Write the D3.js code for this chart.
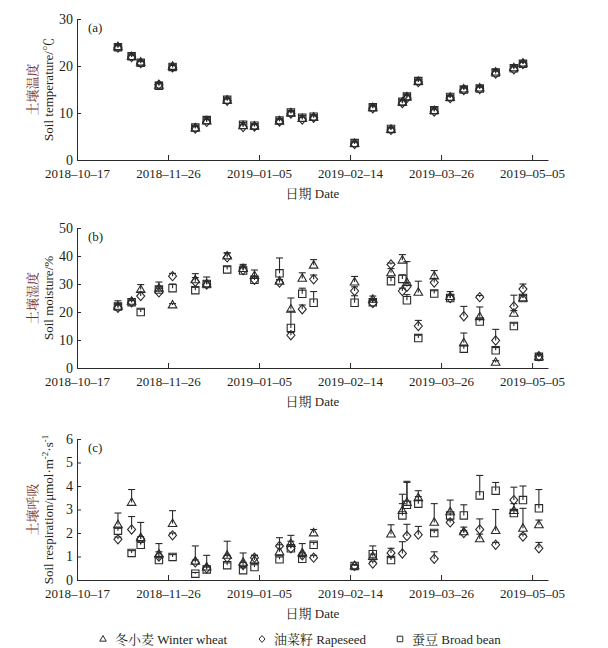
<!DOCTYPE html>
<html>
<head>
<meta charset="utf-8">
<script src="https://cdn.jsdelivr.net/npm/d3@7"></script>
<style>
body { margin: 0; background: #fff; }
svg text { font-family: "Liberation Serif", "Times New Roman", "Noto Serif CJK SC", "Noto Sans CJK SC", serif; fill: #231f20; }
</style>
</head>
<body>
<div id="chart"></div>
<script>
// sampling dates (shared by all panels)
const dates = ["2018-11-04","2018-11-10","2018-11-14","2018-11-22","2018-11-28","2018-12-08","2018-12-13",
  "2018-12-22","2018-12-29","2019-01-03","2019-01-14","2019-01-19","2019-01-24","2019-01-29","2019-02-16",
  "2019-02-24","2019-03-04","2019-03-09","2019-03-11","2019-03-16","2019-03-23","2019-03-30","2019-04-05",
  "2019-04-12","2019-04-19","2019-04-27","2019-05-01","2019-05-08"];
const tickDates = ["2018-10-17","2018-11-26","2019-01-05","2019-02-14","2019-03-26","2019-05-05"];
const dateDomain = ["2018-10-17","2019-05-12"];

// (a) soil temperature
const tempWheat = [24.1,22.0,20.8,15.9,19.9,6.8,8.3,12.7,7.3,7.2,8.3,10.0,8.8,9.1,3.5,11.1,6.5,12.3,13.4,16.7,10.5,13.3,15.1,15.3,18.7,19.6,20.6,null];
const tempWheatErr = [0.5,0.5,0.5,0.6,0.5,0.5,0.6,0.5,0.6,0.5,0.5,0.5,0.6,0.5,0.5,0.6,0.5,0.6,0.6,0.5,0.6,0.5,0.5,0.5,0.6,0.6,0.5,null];
const tempRape = [23.9,21.9,20.6,16.0,19.7,6.7,8.1,12.6,7.0,7.1,8.2,9.9,8.6,9.0,3.4,11.0,6.4,12.1,13.2,16.6,10.3,13.2,14.9,15.1,18.4,19.3,20.4,null];
const tempRapeErr = [0.4,0.4,0.4,0.5,0.4,0.4,0.5,0.4,0.5,0.4,0.4,0.4,0.5,0.4,0.4,0.5,0.4,0.5,0.5,0.4,0.5,0.4,0.4,0.4,0.5,0.5,0.4,null];
const tempBean = [24.0,22.1,20.7,15.8,19.8,6.9,8.5,12.8,7.5,7.3,8.4,10.1,9.0,9.2,3.6,11.2,6.6,12.4,13.5,16.8,10.6,13.4,15.0,15.2,18.6,19.5,20.5,null];
const tempBeanErr = [0.4,0.5,0.4,0.5,0.4,0.5,0.5,0.4,0.5,0.4,0.5,0.4,0.5,0.4,0.4,0.5,0.4,0.5,0.5,0.4,0.5,0.4,0.5,0.4,0.5,0.5,0.4,null];

// (b) soil moisture
const moistWheat = [22,23.8,28,28.5,22.5,31.5,30,40,35.5,33,31,21,32,36.7,30.7,24.5,34,38.5,30.5,27,32.8,25.5,9,18.3,2,19.5,25,4];
const moistWheatErr = [2,0.8,1.8,2.2,0.5,2.2,2.5,1.2,1.5,2,0.6,4,2,2,2,1.2,1.5,2,7.5,4,2,1.8,3.5,3.5,0.6,1,1,0.8];
const moistRape = [21.5,23.5,25.7,27,32.8,30.8,29.8,39.5,35,31.5,30.5,11.7,21,31.7,27.5,23.2,37,27.5,29,15,30.5,25,18.5,25.3,9.8,22,28.2,4.2];
const moistRapeErr = [1.2,0.6,1.5,1.5,1,1.5,1.2,1.5,1.5,1.2,1,1,1.5,1.5,1.5,1,0.5,1,1.5,2,1.5,1,3.5,0.6,4,4,1.8,0.6];
const moistBean = [22,23.5,20,28,28.5,27.8,30,35.2,34.8,31.5,33.8,14.3,26.5,23.3,23.3,23.5,31,31.8,24.2,10.7,26.6,25,6.9,16.6,6.3,15,25,4];
const moistBeanErr = [1,0.6,1,1,1.5,1,1,1,1,1,5.5,6,2,4,2.5,1,1.5,1.5,2,1,1,1,1,1,1,1,0.8,0.8];

// (c) soil respiration
const respWheat = [2.35,3.3,1.8,1.1,2.4,0.8,0.55,1.05,0.75,0.85,1.2,1.55,1.15,2.0,0.6,1.0,1.95,2.95,3.3,3.5,2.45,2.9,2.05,1.75,2.1,2.95,2.2,2.35];
const respWheatErr = [0.5,0.55,0.65,0.45,0.55,0.65,0.5,0.6,0.4,0.2,0.3,0.35,0.4,0.15,0.05,0.1,0.4,0.7,0.85,0.3,0.8,0.5,0.2,0.2,0.9,0.3,0.85,0.2];
const respRape = [1.73,2.15,1.75,1.0,1.9,0.75,0.5,0.95,0.65,0.95,1.45,1.35,1.05,0.95,0.6,0.7,1.15,1.13,1.87,1.93,0.9,2.45,2.0,2.15,1.5,3.4,1.85,1.35];
const respRapeErr = [0.1,0.55,0.1,0.2,0.1,0.1,0.1,0.1,0.1,0.1,0.35,0.3,0.1,0.1,0.05,0.1,0.2,0.5,0.5,0.35,0.3,0.1,0.1,0.45,0.1,0.55,0.1,0.25];
const respBean = [2.1,1.15,1.5,0.85,0.98,0.27,0.45,0.63,0.42,0.55,0.88,1.35,0.9,1.5,0.6,1.1,0.85,2.75,3.2,3.25,2.0,2.75,2.75,3.6,3.8,2.85,3.4,3.05];
const respBeanErr = [0.1,0.1,0.1,0.1,0.1,0.05,0.1,0.1,0.1,0.1,0.1,0.1,0.1,0.1,0.05,0.35,0.1,0.5,1.0,0.3,0.1,0.1,0.45,0.85,0.35,0.1,0.6,0.8];

const legendNames = ["冬小麦 Winter wheat","油菜籽 Rapeseed","蚕豆 Broad bean"];

// panel setup
const left = 77, right = 548;
const panels = [
  {tag:"(a)", top:19, bottom:160, max:30, ticks:[0,10,20,30], cn:"土壤温度", en:"Soil temperature/℃",
   series:[[tempWheat,tempWheatErr],[tempRape,tempRapeErr],[tempBean,tempBeanErr]]},
  {tag:"(b)", top:228, bottom:368, max:50, ticks:[0,10,20,30,40,50], cn:"土壤湿度", en:"Soil moisture/%",
   series:[[moistWheat,moistWheatErr],[moistRape,moistRapeErr],[moistBean,moistBeanErr]]},
  {tag:"(c)", top:439, bottom:580, max:6, ticks:[0,1,2,3,4,5,6], cn:"土壤呼吸", en:null,
   series:[[respWheat,respWheatErr],[respRape,respRapeErr],[respBean,respBeanErr]]}
];

// marker shapes: triangle, diamond, square
const shapes = [
  function(s){ return "M0," + (-4.6*s) + "L" + (4.3*s) + "," + (2.9*s) + "L" + (-4.3*s) + "," + (2.9*s) + "Z"; },
  function(s){ return "M0," + (-4.6*s) + "L" + (4*s) + ",0L0," + (4.6*s) + "L" + (-4*s) + ",0Z"; },
  function(s){ return "M" + (-3.7*s) + "," + (-3.7*s) + "h" + (7.4*s) + "v" + (7.4*s) + "h" + (-7.4*s) + "Z"; }
];

const parser = d3.timeParse("%Y-%m-%d");
const ink = "#2a2a2a";

const svg = d3.select("#chart")
  .append("svg")
    .attr("width", 608)
    .attr("height", 648);

const x = d3.scaleTime()
  .domain(dateDomain.map(parser))
  .range([left, right]);

panels.forEach(function(p) {
  const y = d3.scaleLinear().domain([0, p.max]).range([p.bottom, p.top]);

  // x axis
  const gx = svg.append("g")
    .attr("transform", "translate(0," + p.bottom + ")")
    .call(d3.axisBottom(x)
      .tickValues(tickDates.map(parser))
      .tickFormat(function(d){ return d3.timeFormat("%Y–%m–%d")(d); })
      .tickSizeInner(-5).tickSizeOuter(0).tickPadding(9));
  gx.attr("font-family", null);
  gx.select(".domain").attr("stroke", ink);
  gx.selectAll(".tick line").attr("stroke", ink);
  gx.selectAll(".tick text").attr("font-size", 13).attr("fill", "#231f20");

  // y axis
  const gy = svg.append("g")
    .attr("transform", "translate(" + left + ",0)")
    .call(d3.axisLeft(y).tickValues(p.ticks).tickFormat(d3.format("d"))
      .tickSizeInner(-4).tickSizeOuter(0).tickPadding(4));
  gy.attr("font-family", null);
  gy.select(".domain").attr("stroke", ink);
  gy.selectAll(".tick line").attr("stroke", ink);
  gy.selectAll(".tick text").attr("font-size", 14).attr("fill", "#231f20").attr("dy", "0.3em");

  // panel tag
  svg.append("text")
    .attr("x", 88).attr("y", p.top + 13)
    .attr("font-size", 13)
    .text(p.tag);

  // x title
  svg.append("text")
    .attr("x", (left + right) / 2).attr("y", p.bottom + 38)
    .attr("text-anchor", "middle")
    .attr("font-size", 13)
    .text("日期 Date");

  // y titles
  const cy = (p.top + p.bottom) / 2;
  svg.append("text")
    .attr("transform", "translate(37," + cy + ")rotate(-90)")
    .attr("text-anchor", "middle")
    .attr("font-size", 13)
    .style("fill", "#74302a")
    .style("font-family", "'Noto Serif CJK SC','Noto Sans CJK SC',sans-serif")
    .text(p.cn);
  const en = svg.append("text")
    .attr("transform", "translate(53," + cy + ")rotate(-90)")
    .attr("text-anchor", "middle")
    .attr("font-size", 13);
  if (p.en) {
    en.text(p.en);
  } else {
    en.append("tspan").text("Soil respiration/μmol·m");
    en.append("tspan").attr("dy", -5).attr("font-size", 9).text("-2");
    en.append("tspan").attr("dy", 5).text("·s");
    en.append("tspan").attr("dy", -5).attr("font-size", 9).text("-1");
  }

  // error bars and markers
  p.series.forEach(function(s, k) {
    const pts = dates.map(function(d, i) { return {date: parser(d), v: s[0][i], e: s[1][i]}; })
      .filter(function(d) { return d.v != null; });
    const g = svg.append("g").attr("stroke", ink).attr("fill", "none").attr("stroke-width", 1.1);
    g.selectAll("line.bar").data(pts).enter().append("line")
      .attr("x1", function(d){ return x(d.date); })
      .attr("x2", function(d){ return x(d.date); })
      .attr("y1", function(d){ return y(d.v); })
      .attr("y2", function(d){ return y(d.v + d.e); });
    g.selectAll("line.cap").data(pts).enter().append("line")
      .attr("x1", function(d){ return x(d.date) - 3.5; })
      .attr("x2", function(d){ return x(d.date) + 3.5; })
      .attr("y1", function(d){ return y(d.v + d.e); })
      .attr("y2", function(d){ return y(d.v + d.e); });
    g.selectAll("path").data(pts).enter().append("path")
      .attr("d", shapes[k](1))
      .attr("transform", function(d){ return "translate(" + x(d.date) + "," + y(d.v) + ")"; });
  });
});

// legend
const legendX = [103, 262, 400];
legendNames.forEach(function(name, k) {
  svg.append("path")
    .attr("d", shapes[k](0.75))
    .attr("transform", "translate(" + legendX[k] + ",639)")
    .attr("fill", "none").attr("stroke", ink).attr("stroke-width", 1);
  svg.append("text")
    .attr("x", legendX[k] + 12).attr("y", 643.5)
    .attr("font-size", 13)
    .text(name);
});
</script>
</body>
</html>
